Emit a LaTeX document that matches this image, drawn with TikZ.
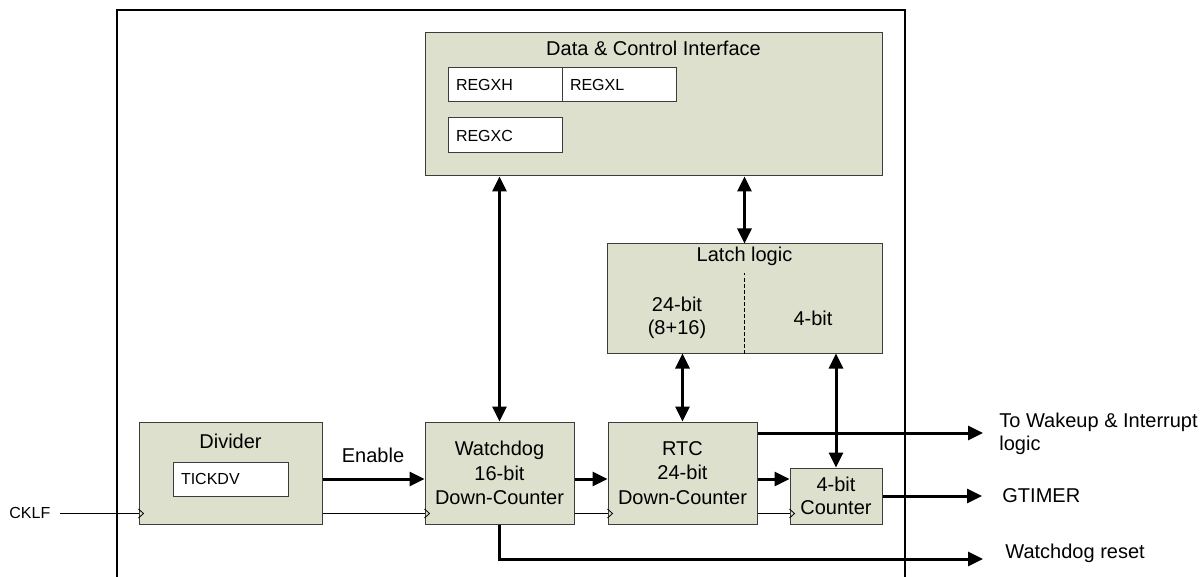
\documentclass[tikz,border=0pt]{standalone}
\usepackage{fontspec}
\setmainfont{Liberation Sans}
\usetikzlibrary{arrows.meta}
\definecolor{boxfill}{RGB}{221,224,204}
\definecolor{boxline}{RGB}{60,60,60}
\begin{document}
\begin{tikzpicture}[x=0.5pt,y=-0.5pt,
  blk/.style={draw=boxline,line width=0.5pt,fill=boxfill,inner sep=0pt,
     font=\fontsize{10}{12.25}\selectfont,align=center},
  reg/.style={draw=boxline,line width=0.5pt,fill=white,inner xsep=4pt,inner ysep=0pt,
     font=\fontsize{8}{10}\selectfont,align=left,minimum height=17pt},
  lbl/.style={font=\fontsize{10}{11.5}\selectfont,inner sep=0pt},
  thin/.style={line width=0.5pt},
  thk/.style={line width=1.5pt,-{Triangle[length=7.5pt,width=7pt]}},
  dbl/.style={line width=1.5pt,{Triangle[length=7.5pt,width=7pt]}-{Triangle[length=7.5pt,width=7pt]}},
  clk/.style={line width=0.4pt}]
\useasboundingbox (0,0) rectangle (1204,577);
% outer frame
\draw[line width=0.8pt] (117,577) -- (117,10) -- (905,10) -- (905,577);

% Data & control interface
\node[blk,minimum width=228.5pt,minimum height=71.5pt] (dci) at (653.5,104.5) {};
\node[lbl] (dcit) at (653.5,48) {Data \& Control Interface};
\node[reg,text width=49pt] (regxh) at (505,85) {REGXH};
\node[reg,text width=49pt] (regxl) at (619,85) {REGXL};
\node[reg,text width=49pt,minimum height=17.5pt] (regxc) at (505,135.5) {REGXC};

% Latch logic
\node[blk,minimum width=137.5pt,minimum height=54.5pt] (latch) at (744.5,298.5) {};
\node[lbl] (latcht) at (744.5,256) {Latch logic};
\draw[thin,dashed,dash pattern=on 2pt off 1pt] (latch.south) -- ++(0,-80);
\node[lbl,align=center] (l24) at (677,317.5) {24-bit\\(8+16)};
\node[lbl] (l4) at (813,318) {4-bit};

% Divider
\node[blk,minimum width=91.5pt,minimum height=51pt] (div) at (230.5,473) {};
\node[lbl] (divt) at (230.5,441) {Divider};
\node[reg,text width=49.5pt] (tick) at (230.5,479) {TICKDV};

% counters
\node[blk,minimum width=74.5pt,minimum height=51pt] (wd) at (499.5,473) {Watchdog\\16-bit\\Down-Counter};
\node[blk,minimum width=74.5pt,minimum height=51pt] (rtc) at (682.5,473) {RTC\\24-bit\\Down-Counter};
\node[blk,minimum width=46pt,minimum height=28pt,font=\fontsize{10}{11.5}\selectfont] (cnt) at (836,496) {4-bit\\Counter};

% CKLF input
\node[anchor=west,inner xsep=4.5pt,inner ysep=0pt,font=\fontsize{8}{10}\selectfont] (cklf) at (0,513) {CKLF};
\draw[thin] (cklf.east) -- (cklf.east -| div.west);
% clock chain
\draw[thin] ([yshift=5.5pt]div.south east) -- ([yshift=5.5pt]wd.south west);
\draw[thin] ([yshift=5.5pt]wd.south east) -- ([yshift=5.5pt]rtc.south west);
\draw[thin] ([yshift=5.5pt]rtc.south east) -- ([yshift=5.5pt]cnt.south west);
% clock markers
\foreach \b in {div,wd,rtc,cnt}
  \draw[clk] ([yshift=7.75pt]\b.south west) -- ++(5,4.5) -- ++(-5,4.5);

% Enable and data arrows
\draw[thk] ([yshift=-3pt]div.east) -- ([yshift=-3pt]wd.west);
\node[lbl] (en) at (373,455) {Enable};
\draw[thk] ([yshift=-3pt]wd.east) -- ([yshift=-3pt]rtc.west);
\draw[thk] ([yshift=-3pt]rtc.east) -- ([yshift=-3pt]rtc.east -| cnt.west);

% bidirectional buses
\draw[dbl] (wd.north |- dci.south) -- (wd.north);
\draw[dbl] (latch.north |- dci.south) -- (latch.north);
\draw[dbl] (rtc.north |- latch.south) -- (rtc.north);

% outputs
\coordinate (wk) at (983,433);
\draw[thk] ([yshift=20pt]rtc.east) -- (wk);
\node[lbl,anchor=west,align=left] (wkt) at (999,433.5) {To Wakeup \& Interrupt\\logic};
\draw[dbl] (cnt.north |- latch.south) -- (cnt.north);

\coordinate (gt) at (982,496);
\draw[thk] (cnt.east) -- (gt);
\node[lbl,anchor=west] (gtt) at (1002,496) {GTIMER};

\coordinate (wr) at (983,559);
\draw[thk] (wd.south) |- (wr);
\node[lbl,anchor=west] (wrt) at (1005,553) {Watchdog reset};
\end{tikzpicture}
\end{document}
